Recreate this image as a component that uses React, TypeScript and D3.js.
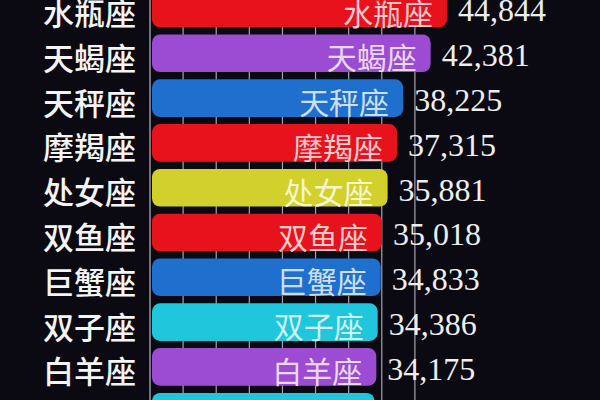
import React, { useEffect, useRef } from "react";
import * as d3 from "d3";

// zodiac ranking, top to bottom
const signs = ["水瓶座", "天蝎座", "天秤座", "摩羯座", "处女座", "双鱼座", "巨蟹座", "双子座", "白羊座", "狮子座"];
const counts = [44844, 42381, 38225, 37315, 35881, 35018, 34833, 34386, 34175, 33912];
const barColors = ["#e8121c", "#9c4cd2", "#1e6fce", "#e8121c", "#d2d02a", "#e8121c", "#1e6fce", "#20c6dc", "#9c4cd2", "#20c6dc"];
const gridTicks = [5000, 10000, 15000, 20000, 25000, 30000, 35000, 40000];

const W = 600;
const H = 400;

export default function App() {
    const ref = useRef<SVGSVGElement>(null);

    useEffect(() => {
        const svg = d3.select(ref.current);
        svg.selectAll("*").remove();

        const rows = signs.map((s, i) => ({ name: s, value: counts[i], color: barColors[i] }));

        const xScale = d3.scaleLinear().domain([0, 45000]).range([150, 448]);
        const step = 44.8;
        const yScale = d3.scaleBand<string>()
            .domain(signs)
            .range([-13.9, -13.9 + step * signs.length])
            .paddingInner(0.16)
            .paddingOuter(0.08);

        svg.append("rect")
            .attr("width", W)
            .attr("height", H)
            .attr("fill", "#0b0a12");

        // grid lines sit behind the bars
        svg.append("g")
            .selectAll("line")
            .data(gridTicks)
            .join("line")
            .attr("x1", d => xScale(d))
            .attr("x2", d => xScale(d))
            .attr("y1", 0)
            .attr("y2", H)
            .attr("stroke", "#a4a4ae")
            .attr("stroke-width", 1.2);

        svg.append("line")
            .attr("x1", xScale(0))
            .attr("x2", xScale(0))
            .attr("y1", 0)
            .attr("y2", H)
            .attr("stroke", "#b8b8c0")
            .attr("stroke-width", 1.2);

        const bar = svg.append("g")
            .selectAll("g")
            .data(rows)
            .join("g")
            .attr("transform", d => "translate(0," + yScale(d.name) + ")");

        const bh = yScale.bandwidth();

        bar.append("rect")
            .attr("x", xScale(0) + 2)
            .attr("y", 0)
            .attr("width", d => xScale(d.value) - xScale(0) - 2)
            .attr("height", bh)
            .attr("rx", 8)
            .attr("fill", d => d.color);

        bar.append("text")
            .attr("x", d => xScale(d.value) - 14)
            .attr("y", bh / 2 + 3)
            .attr("text-anchor", "end")
            .attr("dominant-baseline", "central")
            .attr("font-family", "'Noto Sans CJK SC', sans-serif")
            .attr("font-size", 30)
            .attr("fill", d => d3.interpolateRgb(d.color, "#ffffff")(0.78))
            .text(d => d.name);

        bar.append("text")
            .attr("x", 136)
            .attr("y", bh / 2 + 3)
            .attr("text-anchor", "end")
            .attr("dominant-baseline", "central")
            .attr("font-family", "'Noto Sans CJK SC', sans-serif")
            .attr("font-weight", 500)
            .attr("font-size", 31)
            .attr("fill", "#f4f4f4")
            .text(d => d.name);

        bar.append("text")
            .attr("x", d => xScale(d.value) + 11)
            .attr("y", bh / 2 + 2)
            .attr("dominant-baseline", "central")
            .attr("font-family", "'Liberation Serif', serif")
            .attr("font-size", 32)
            .attr("fill", "#eeeeee")
            .text(d => d3.format(",")(d.value));
    }, []);

    return (
        <svg ref={ref} width={W} height={H}
             style={{ position: "absolute", left: 0, top: 0, display: "block" }} />
    );
}
